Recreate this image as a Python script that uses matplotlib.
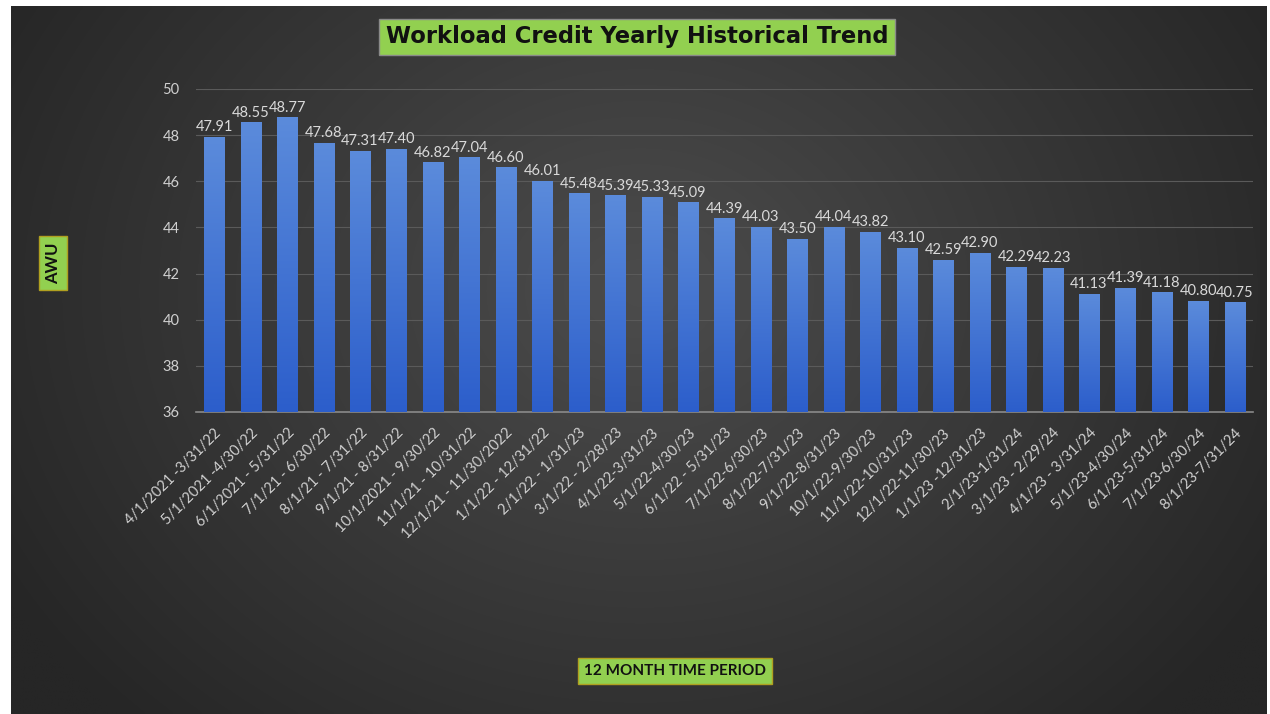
import numpy as np
import matplotlib
matplotlib.use("Agg")
import matplotlib.pyplot as plt

periods = [
    "4/1/2021 -3/31/22", "5/1/2021 -4/30/22", "6/1/2021 - 5/31/22", "7/1/21 - 6/30/22",
    "8/1/21 - 7/31/22", "9/1/21 - 8/31/22", "10/1/2021 - 9/30/22", "11/1/21 - 10/31/22",
    "12/1/21 - 11/30/2022", "1/1/22 - 12/31/22", "2/1/22 - 1/31/23", "3/1/22 - 2/28/23",
    "4/1/22-3/31/23", "5/1/22-4/30/23", "6/1/22 - 5/31/23", "7/1/22-6/30/23",
    "8/1/22-7/31/23", "9/1/22-8/31/23", "10/1/22-9/30/23", "11/1/22-10/31/23",
    "12/1/22-11/30/23", "1/1/23 -12/31/23", "2/1/23-1/31/24", "3/1/23 - 2/29/24",
    "4/1/23 - 3/31/24", "5/1/23-4/30/24", "6/1/23-5/31/24", "7/1/23-6/30/24",
    "8/1/23-7/31/24",
]
awu = [47.91, 48.55, 48.77, 47.68, 47.31, 47.40, 46.82, 47.04, 46.60, 46.01,
       45.48, 45.39, 45.33, 45.09, 44.39, 44.03, 43.50, 44.04, 43.82, 43.10,
       42.59, 42.90, 42.29, 42.23, 41.13, 41.39, 41.18, 40.80, 40.75]
y_ticks = [36, 38, 40, 42, 44, 46, 48, 50]

title = "Workload Credit Yearly Historical Trend"
ylabel = "AWU"
xlabel = "12 MONTH TIME PERIOD"

FONT = ["Lato", "DejaVu Sans"]
plt.rcParams["font.family"] = FONT

W, H = 1270, 714
fig = plt.figure(figsize=(W / 100, H / 100), dpi=100, facecolor="white")

# background panel with radial gradient
bx0, by0, bx1, by1 = 11, 6, 1267, 714
bg = fig.add_axes([bx0 / W, 1 - by1 / H, (bx1 - bx0) / W, (by1 - by0) / H])
bg.set_axis_off()
yy, xx = np.mgrid[0:200, 0:360]
cx, cy = 180, 80
r = np.sqrt(((xx - cx) / 210.0) ** 2 + ((yy - cy) / 170.0) ** 2)
r = np.clip(r, 0, 1)
c0 = np.array([0x4c, 0x4c, 0x4c]) / 255
c1 = np.array([0x26, 0x26, 0x26]) / 255
img = c0[None, None, :] * (1 - r[..., None]) + c1[None, None, :] * r[..., None]
bg.imshow(img, aspect="auto", extent=[0, 1, 0, 1], interpolation="bilinear")
bg.set_xlim(0, 1)
bg.set_ylim(0, 1)

ax = fig.add_axes([196 / W, 1 - 412 / H, (1253 - 196) / W, (412 - 89) / H])
ax.patch.set_alpha(0)
x = np.arange(len(awu))
bars = ax.bar(x, np.array(awu) - 36, bottom=36, width=0.55, color="#4472c4", zorder=3)

grad = np.linspace(0, 1, 100)[:, None]
top_c = np.array([0x5b, 0x8b, 0xdb]) / 255
bot_c = np.array([0x2c, 0x5e, 0xcb]) / 255
gimg = top_c[None, None, :] * (1 - grad[..., None]) + bot_c[None, None, :] * grad[..., None]
gimg = np.repeat(gimg, 2, axis=1)
for b in bars:
    x0 = b.get_x()
    w = b.get_width()
    y0 = b.get_y()
    h = b.get_height()
    im = ax.imshow(gimg, extent=[x0, x0 + w, y0, y0 + h], aspect="auto", zorder=4,
                   interpolation="bilinear")
    im.set_clip_path(b)

for xi, v in zip(x, awu):
    ax.text(xi, v + 0.12, f"{v:.2f}", ha="center", va="bottom", color="#d9d9d9",
            fontsize=10.5, zorder=5)

ax.set_xlim(-0.5, len(awu) - 0.5)
ax.set_ylim(36, 50)
ax.set_yticks(y_ticks)
ax.set_yticklabels([str(t) for t in y_ticks], color="#d0d0d0", fontsize=10.5)
ax.grid(axis="y", color="#5a5a5a", linewidth=0.8, zorder=0)
ax.set_axisbelow(True)
for s in ["top", "right", "left"]:
    ax.spines[s].set_visible(False)
ax.spines["bottom"].set_color("#8a8a8a")
ax.spines["bottom"].set_linewidth(1.2)
ax.tick_params(axis="y", length=0, pad=12)
ax.tick_params(axis="x", length=0, pad=10)
ax.set_xticks(x)
ax.set_xticklabels(periods, rotation=45, ha="right", rotation_mode="anchor",
                   color="#d0d0d0", fontsize=10.5)

fig.text(637 / W, 1 - 37 / H, title, ha="center", va="center", fontsize=16.3,
         fontweight="bold", color="#111111", family=["DejaVu Sans"],
         bbox=dict(boxstyle="square,pad=0.28", facecolor="#92d050", edgecolor="#8a8a8a",
                   linewidth=1))
fig.text(53 / W, 1 - 263 / H, ylabel, ha="center", va="center", rotation=90,
         fontsize=12, fontweight="bold", color="#111111",
         bbox=dict(boxstyle="square,pad=0.35", facecolor="#92d050", edgecolor="#b0a020",
                   linewidth=1))
fig.text(675 / W, 1 - 671 / H, xlabel, ha="center", va="center",
         fontsize=11, fontweight="bold", color="#111111",
         bbox=dict(boxstyle="square,pad=0.4", facecolor="#92d050", edgecolor="#b0a020",
                   linewidth=1))

fig.savefig("out.png", dpi=100, facecolor="white")
